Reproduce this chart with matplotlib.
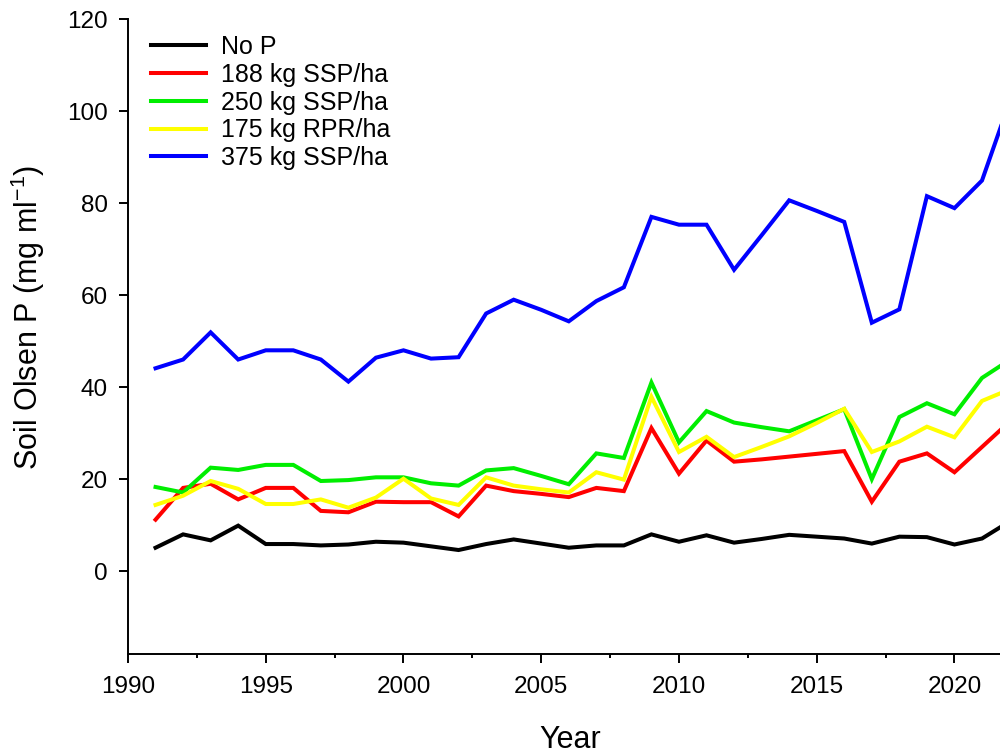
import matplotlib
matplotlib.use("Agg")
import matplotlib.pyplot as plt
from matplotlib.ticker import FixedLocator, MultipleLocator

plt.rcParams['font.family'] = ['Liberation Sans', 'DejaVu Sans']
plt.rcParams['mathtext.default'] = 'regular'

# Soil Olsen P by treatment, 1991-2022
years = list(range(1991, 2023))

no_p = [5.1, 8.0, 6.7, 9.9, 5.9, 5.9, 5.6, 5.8, 6.4, 6.2,
        5.4, 4.6, 5.9, 6.9, 6.0, 5.1, 5.6, 5.6, 8.0, 6.4,
        7.8, 6.2, 7.0, 7.9, 7.5, 7.1, 6.0, 7.5, 7.4, 5.8,
        7.1, 10.8]
ssp_188 = [11.2, 18.1, 19.0, 15.6, 18.1, 18.1, 13.1, 12.8, 15.1, 15.0,
           15.0, 11.9, 18.6, 17.4, 16.8, 16.1, 18.1, 17.4, 31.1, 21.2,
           28.4, 23.8, 24.3, 24.9, 25.5, 26.1, 15.1, 23.8, 25.6, 21.5,
           27.0, 32.5]
ssp_250 = [18.3, 17.1, 22.5, 22.0, 23.1, 23.1, 19.6, 19.8, 20.4, 20.4,
           19.1, 18.6, 21.9, 22.4, 20.7, 18.9, 25.6, 24.6, 41.0, 28.0,
           34.8, 32.3, 31.3, 30.4, 32.8, 35.2, 20.0, 33.5, 36.5, 34.1,
           42.0, 45.9]
rpr_175 = [14.4, 16.4, 19.6, 17.9, 14.6, 14.6, 15.6, 13.8, 16.0, 20.1,
           15.8, 14.4, 20.4, 18.6, 17.8, 17.1, 21.5, 19.9, 37.9, 25.9,
           29.2, 24.8, 27.0, 29.3, 32.2, 35.3, 25.9, 28.2, 31.4, 29.1,
           37.0, 39.5]
ssp_375 = [44.1, 46.0, 51.9, 46.0, 48.0, 48.0, 46.0, 41.2, 46.4, 48.0,
           46.2, 46.5, 56.0, 59.0, 56.8, 54.3, 58.7, 61.7, 77.0, 75.3,
           75.3, 65.5, 73.0, 80.6, 78.3, 75.9, 54.0, 56.9, 81.5, 78.9,
           84.9, 102.0]

labels = ["No P", "188 kg SSP/ha", "250 kg SSP/ha", "175 kg RPR/ha", "375 kg SSP/ha"]
colors = ["black", "#ff0000", "#00ee00", "#ffff00", "#0000ff"]
year_ticks = [1990, 1995, 2000, 2005, 2010, 2015, 2020]
year_minor = [1992.5, 1997.5, 2002.5, 2007.5, 2012.5, 2017.5]

fig = plt.figure(figsize=(10, 7.54), dpi=100)
# axis runs past the right edge of the figure
ax = fig.add_axes([0.128, 0.1326, 0.9642, 0.8422])

for series, lab, col in zip([no_p, ssp_188, ssp_250, rpr_175, ssp_375], labels, colors):
    ax.plot(years, series, color=col, lw=2.9, label=lab, solid_joinstyle='miter')

ax.set_xlim(1990, 2025)
ax.set_ylim(-18, 120)
ax.xaxis.set_major_locator(FixedLocator(year_ticks))
ax.xaxis.set_minor_locator(FixedLocator(year_minor))
ax.yaxis.set_major_locator(MultipleLocator(20))

ax.spines['top'].set_visible(False)
ax.spines['right'].set_visible(False)
for side in ['left', 'bottom']:
    ax.spines[side].set_linewidth(1.4)

ax.tick_params(axis='both', which='major', direction='out', length=6.5, width=1.4,
               labelsize=17.5)
ax.tick_params(axis='x', which='major', pad=9)
ax.tick_params(axis='y', which='major', pad=8)
ax.tick_params(axis='x', which='minor', direction='out', length=3, width=1.4)

fig.text(0.570, 1 - 740 / 754, "Year", fontsize=22, ha='center', va='center')
fig.text(0.028, 1 - 317 / 754, "Soil Olsen P (mg ml$^{-1}$)", fontsize=22,
         rotation=90, ha='center', va='center')

ax.legend(loc='upper left', bbox_to_anchor=(0.006, 1.002), frameon=False, fontsize=18,
          handlelength=2.2, handletextpad=0.6, labelspacing=0.15, borderaxespad=0.3)

fig.savefig("out.png", dpi=100)
